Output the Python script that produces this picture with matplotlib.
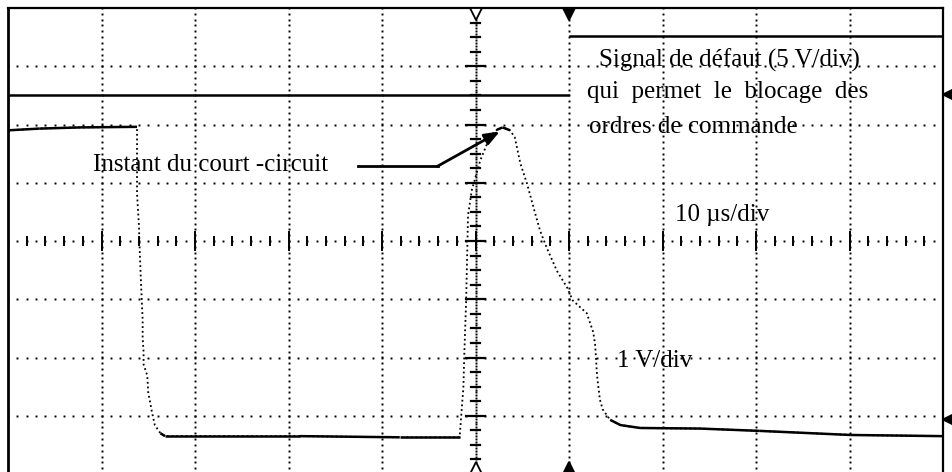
"""Oscillogramme : détection de court-circuit et signal de défaut."""

import matplotlib

matplotlib.use("Agg")
import matplotlib.pyplot as plt
import numpy as np

# axes de l'écran : 10 div x 10 us/div, 8 div verticales
T_MAX = 100.0
N_DIV_Y = 4

# tension (1 V/div), en divisions, temps en us
VOLT_T = [0.0, 3.4, 7.7, 13.8, 13.8, 13.8, 14.0, 14.1, 14.2, 14.4, 14.4, 14.5, 14.5,
          14.9, 15.0, 15.2, 15.4, 15.7, 16.3, 16.8, 31.2, 41.9, 48.3, 48.6, 48.7, 48.8,
          49.0, 49.2, 49.6, 50.5, 51.6, 52.3, 52.9, 53.7, 54.2, 54.8, 55.5, 56.3, 56.9,
          57.6, 58.7, 59.8, 60.4, 61.9, 62.6, 62.8, 63.0, 63.3, 63.6, 64.4, 65.5, 67.6,
          74.0, 80.4, 90.1, 100.0]
VOLT_Y = [1.90, 1.93, 1.95, 1.96, 1.72, 0.81, 0.28, -0.21, -0.63, -1.35, -1.67, -1.90,
          -2.12, -2.31, -2.60, -2.77, -2.94, -3.16, -3.30, -3.35, -3.35, -3.37, -3.37,
          -2.73, -2.53, -1.96, -1.02, 0.44, 0.87, 1.38, 1.81, 1.91, 1.95, 1.90, 1.78,
          1.33, 0.99, 0.52, 0.18, -0.11, -0.51, -0.80, -1.02, -1.24, -1.57, -1.79, -2.31,
          -2.72, -2.89, -3.07, -3.16, -3.21, -3.22, -3.26, -3.33, -3.35]

# signal de défaut (5 V/div)
FAULT_T = [0.0, 59.9, np.nan, 60.1, 100.0]
FAULT_Y = [2.50, 2.50, np.nan, 3.52, 3.52]

TRIGGER_T = 50.0
DELAY_T = 60.0
CH_MARKERS_Y = [2.53, -3.06]

FONT = "Liberation Serif"
FS = 18


def draw_graticule(ax):
    dot = dict(ls="none", marker="s", ms=1.4, color="black", mec="none")
    xs = np.arange(0, T_MAX + 0.01, 1.0)
    ys = np.arange(-N_DIV_Y, N_DIV_Y + 0.001, 0.1)
    for gy in range(-N_DIV_Y + 1, N_DIV_Y):
        if gy != 0:
            ax.plot(xs, np.full_like(xs, gy), **dot)
    for gx in range(10, 100, 10):
        if gx != 50:
            ax.plot(np.full_like(ys, gx), ys, **dot)

    # axe horizontal central
    ax.plot(xs, np.zeros_like(xs), **dot)
    for tx in np.arange(2, 100, 2):
        h = 0.15 if tx % 10 == 0 else 0.065
        ax.plot([tx, tx], [-h, h], color="black", lw=1.4)

    # axe vertical central
    yc = np.arange(-N_DIV_Y, N_DIV_Y + 0.001, 0.05)
    ax.plot(np.full_like(yc, 50), yc, **dot)
    for ty in np.arange(-3.75, 3.8, 0.25):
        w = 1.0 if abs(ty - round(ty)) < 1e-6 else 0.5
        ax.plot([50 - w, 50 + w], [ty, ty], color="black", lw=1.6)


def draw_traces(ax):
    t = np.asarray(VOLT_T)
    y = np.asarray(VOLT_Y)
    ax.plot(t, y, color="black", lw=1.3, ls=(0, (1, 1.6)))
    slope = np.abs(np.diff(y)) / np.maximum(np.diff(t), 1e-3)
    for i in np.where(slope < 0.12)[0]:
        ax.plot(t[i:i + 2], y[i:i + 2], color="black", lw=1.8, solid_capstyle="butt")
    ax.plot(FAULT_T, FAULT_Y, color="black", lw=1.8)


def draw_markers(ax):
    kw = dict(ms=9, clip_on=False, color="black", mew=1.3, zorder=5)
    ax.plot(TRIGGER_T, 3.9, marker="v", mfc="white", **kw)
    ax.plot(DELAY_T, 3.9, marker="v", **kw)
    ax.plot(TRIGGER_T, -3.9, marker="^", mfc="white", **kw)
    ax.plot(DELAY_T, -3.9, marker="^", **kw)
    for cy in CH_MARKERS_Y:
        ax.plot(100.55, cy, marker="<", ms=8, clip_on=False, color="black", zorder=5)


def draw_labels(ax):
    txt = dict(fontfamily=FONT, fontsize=FS, va="baseline", ha="left")
    ax.text(63.2, 2.99, "Signal de défaut (5 V/div)", **txt)
    ax.text(61.9, 2.46, "qui  permet  le  blocage  des", **txt)
    ax.text(62.1, 1.86, "ordres de commande", **txt)
    ax.text(9.1, 1.21, "Instant du court -circuit", **txt)
    ax.text(71.3, 0.35, "10 µs/div", **txt)
    ax.text(65.1, -2.17, "1 V/div", **txt)

    ax.plot([37.4, 46.0], [1.28, 1.28], color="black", lw=2)
    ax.annotate("", xy=(52.6, 1.88), xytext=(45.9, 1.28),
                arrowprops=dict(arrowstyle="-|>,head_length=0.9,head_width=0.35",
                                color="black", lw=2, shrinkA=0, shrinkB=0))


def main():
    fig = plt.figure(figsize=(9.53, 4.72), dpi=100)
    ax = fig.add_axes([8 / 953, -2 / 472, 935 / 953, 466 / 472])
    ax.set_xlim(0, T_MAX)
    ax.set_ylim(-N_DIV_Y, N_DIV_Y)
    ax.set_xticks([])
    ax.set_yticks([])
    ax.spines["left"].set_linewidth(2.0)
    ax.spines["top"].set_linewidth(1.6)
    ax.spines["right"].set_linewidth(1.6)
    ax.spines["bottom"].set_visible(False)

    draw_graticule(ax)
    draw_traces(ax)
    draw_markers(ax)
    draw_labels(ax)

    fig.savefig("out.png", dpi=100)
    plt.close(fig)


if __name__ == "__main__":
    main()
